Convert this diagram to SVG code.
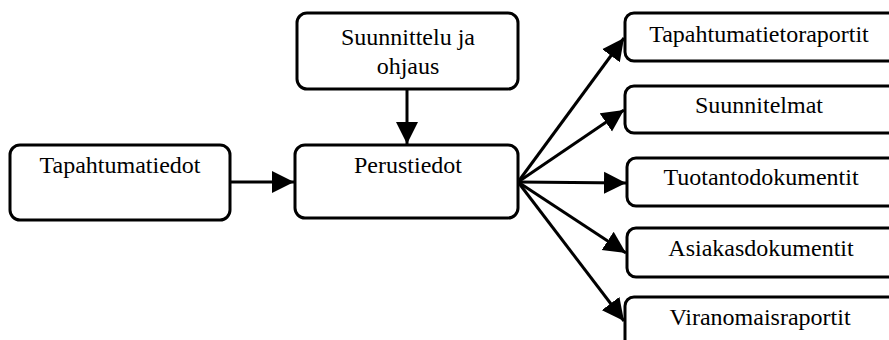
<svg xmlns="http://www.w3.org/2000/svg" width="889" height="340" viewBox="0 0 889 340">
  <style>
    .box { fill: #ffffff; stroke: #000000; stroke-width: 3; }
    .lbl { font-family: "Liberation Serif", "Times New Roman", serif; font-size: 24px; fill: #000000; text-anchor: middle; }
    .edge { stroke: #000000; stroke-width: 3; fill: none; marker-end: url(#head); }
  </style>
  <defs>
    <marker id="head" markerUnits="userSpaceOnUse" markerWidth="23" markerHeight="23" refX="22" refY="11" orient="auto" viewBox="0 0 23 22">
      <path d="M0,0 L22,11 L0,22 z" fill="#000000"/>
    </marker>
  </defs>

  <rect width="889" height="340" fill="#ffffff"/>

  <g id="connectors">
    <line class="edge" x1="231" y1="182" x2="294" y2="182"/>
    <line class="edge" x1="407" y1="89" x2="407" y2="144"/>
    <line class="edge" x1="518" y1="182" x2="624" y2="38"/>
    <line class="edge" x1="518" y1="182" x2="624" y2="110"/>
    <line class="edge" x1="518" y1="182" x2="626" y2="183"/>
    <line class="edge" x1="518" y1="182" x2="626" y2="253"/>
    <line class="edge" x1="518" y1="182" x2="624" y2="321"/>
  </g>

  <g id="tapahtumatiedot">
    <rect class="box" x="10" y="145" width="220" height="75" rx="10"/>
    <text class="lbl" x="120" y="173">Tapahtumatiedot</text>
  </g>

  <g id="suunnittelu">
    <rect class="box" x="297" y="13" width="221" height="76" rx="10"/>
    <text class="lbl" x="408" y="45">Suunnittelu ja</text>
    <text class="lbl" x="408" y="74">ohjaus</text>
  </g>

  <g id="perustiedot">
    <rect class="box" x="295" y="145" width="223" height="73" rx="10"/>
    <text class="lbl" x="408" y="173">Perustiedot</text>
  </g>

  <g id="tapahtumatietoraportit">
    <rect class="box" x="625" y="13" width="280" height="48" rx="9"/>
    <text class="lbl" x="759" y="42">Tapahtumatietoraportit</text>
  </g>

  <g id="suunnitelmat">
    <rect class="box" x="625" y="86" width="280" height="47" rx="9"/>
    <text class="lbl" x="759" y="113">Suunnitelmat</text>
  </g>

  <g id="tuotantodokumentit">
    <rect class="box" x="627" y="158" width="280" height="48" rx="9"/>
    <text class="lbl" x="761" y="185">Tuotantodokumentit</text>
  </g>

  <g id="asiakasdokumentit">
    <rect class="box" x="627" y="228" width="280" height="49" rx="9"/>
    <text class="lbl" x="761" y="256">Asiakasdokumentit</text>
  </g>

  <g id="viranomaisraportit">
    <rect class="box" x="625" y="297" width="280" height="60" rx="9"/>
    <text class="lbl" x="760" y="325">Viranomaisraportit</text>
  </g>
</svg>
